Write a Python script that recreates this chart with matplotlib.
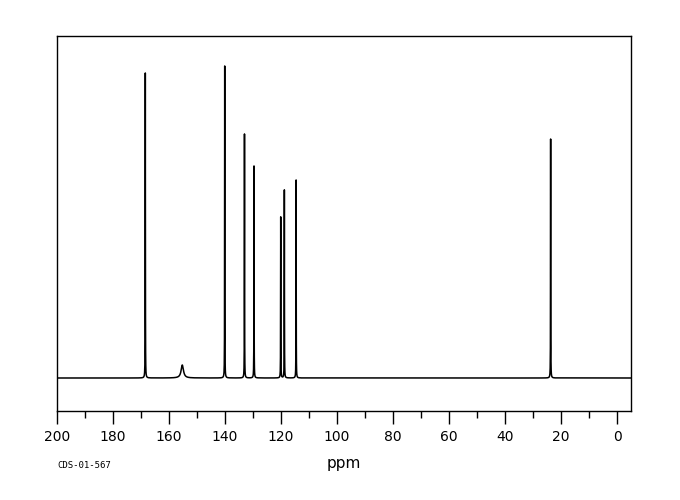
import numpy as np
import matplotlib
matplotlib.use("Agg")
import matplotlib.pyplot as plt

# Peak list (ppm, height in arbitrary units, half-width in ppm)
peak_ppm = [168.46, 155.25, 140.1, 133.04, 129.64, 120.1, 118.8, 114.6, 23.7]
peak_height = [305, 13, 312, 244, 212, 161, 188, 198, 239]
peak_width = [0.035, 0.5, 0.035, 0.035, 0.035, 0.035, 0.035, 0.035, 0.035]

x_ticks = [200, 180, 160, 140, 120, 100, 80, 60, 40, 20, 0]
x_label = "ppm"
code_label = "CDS-01-567"

ppm = np.linspace(-5, 200, 82001)
spectrum = np.zeros_like(ppm)
for c, h, g in zip(peak_ppm, peak_height, peak_width):
    spectrum += h * g**2 / ((ppm - c) ** 2 + g**2)

fig = plt.figure(figsize=(6.8, 5.0), dpi=100)
ax = fig.add_axes([57 / 680, 89 / 500, (631 - 57) / 680, (411 - 36) / 500])
ax.plot(ppm, spectrum, color="black", lw=1.1)
ax.set_xlim(200, -5)
ax.set_ylim(-33, 342)

ax.set_xticks(x_ticks)
ax.set_xticks(np.arange(10, 200, 20), minor=True)
ax.tick_params(axis="x", which="major", direction="out", length=9, width=1,
               labelsize=10, pad=5, color="black")
ax.tick_params(axis="x", which="minor", direction="out", length=5, width=1, color="black")
ax.set_yticks([])
for s in ax.spines.values():
    s.set_linewidth(1)
    s.set_color("black")

ax.set_xlabel(x_label, fontsize=11, labelpad=8)
fig.text(57 / 680, 1 - 466 / 500, code_label, fontsize=6.5, ha="left", va="center",
         family="DejaVu Sans Mono")

fig.savefig("out.png", dpi=100)
